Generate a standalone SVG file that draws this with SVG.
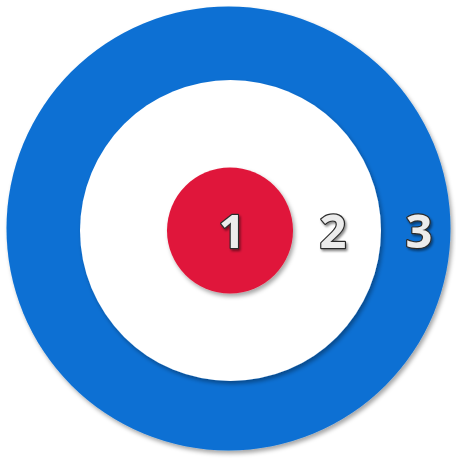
<svg xmlns="http://www.w3.org/2000/svg" width="456" height="462" viewBox="0 0 456 462">
<defs>
<filter id="sh" x="-10%" y="-10%" width="120%" height="120%">
<feDropShadow dx="2" dy="3" stdDeviation="2" flood-color="#000" flood-opacity="0.35"/>
</filter>
<filter id="tsh" x="-20%" y="-20%" width="150%" height="150%">
<feDropShadow dx="1.5" dy="2" stdDeviation="1" flood-color="#000" flood-opacity="0.45"/>
</filter>
</defs>
<style>
.num{font-family:"Open Sans","DejaVu Sans",sans-serif;font-weight:bold;font-size:47px;text-anchor:middle;fill:#ececec;stroke:#2b2b2b;stroke-width:2.4;paint-order:stroke;stroke-linejoin:round;filter:url(#tsh)}
</style>
<rect width="456" height="462" fill="#ffffff"/>
<g id="ring3">
<circle cx="228.5" cy="228.5" r="222" fill="#0a6fd3" filter="url(#sh)"/>
<text class="num" x="419" y="248">3</text>
</g>
<g id="ring2">
<circle cx="230.5" cy="230.5" r="150.5" fill="#ffffff" filter="url(#sh)"/>
<text class="num" x="333" y="248">2</text>
</g>
<g id="ring1">
<circle cx="230" cy="230.5" r="63" fill="#e0183a" filter="url(#sh)"/>
<text class="num" x="232" y="248">1</text>
</g>
</svg>
